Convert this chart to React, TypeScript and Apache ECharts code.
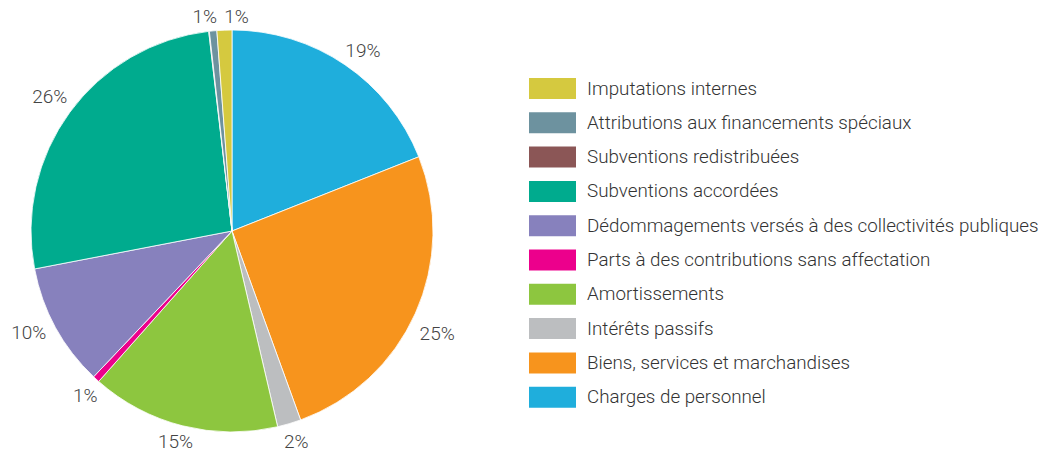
import React, { useEffect, useRef } from "react";
import * as echarts from "echarts";

const categories = [
  "Charges de personnel",
  "Biens, services et marchandises",
  "Intérêts passifs",
  "Amortissements",
  "Parts à des contributions sans affectation",
  "Dédommagements versés à des collectivités publiques",
  "Subventions accordées",
  "Subventions redistribuées",
  "Attributions aux financements spéciaux",
  "Imputations internes",
];

const values = [19.0, 25.5, 1.9, 15.2, 0.55, 9.9, 26.2, 0.05, 0.6, 1.2];

const colors = [
  "#1FAEDC",
  "#F7941D",
  "#BCBEC0",
  "#8DC63F",
  "#EC008C",
  "#8781BD",
  "#00AB8E",
  "#8B5656",
  "#6D929F",
  "#D5C93F",
];

const hiddenLabels = ["Subventions redistribuées"];
const labelOffsets: Record<string, number[]> = {
  "Charges de personnel": [4, 6],
  "Biens, services et marchandises": [-1, 10],
  "Intérêts passifs": [0, -6],
  Amortissements: [-1, -9],
  "Parts à des contributions sans affectation": [6, -2],
  "Dédommagements versés à des collectivités publiques": [-5, -7],
  "Subventions accordées": [0, -1],
  "Attributions aux financements spéciaux": [-6, 10],
  "Imputations internes": [13, 11],
};

const FONT = "Roboto";

export default function App() {
  const ref = useRef<HTMLDivElement>(null);
  useEffect(() => {
    if (!ref.current) return;
    const chart = echarts.init(ref.current, null, { renderer: "svg" });
    const sum = values.reduce((a, b) => a + b, 0);
    const mainData = categories.map((name, i) => ({
      name,
      value: values[i],
      itemStyle: { color: colors[i] },
    }));
    const labelData = categories.map((name, i) => ({
      name,
      value: values[i],
      label: {
        show: hiddenLabels.indexOf(name) < 0,
        offset: labelOffsets[name] || [0, 0],
      },
    }));
    chart.setOption({
      animation: false,
      legend: {
        orient: "vertical",
        left: 527,
        top: 76,
        padding: 0,
        itemWidth: 49,
        itemHeight: 23,
        itemGap: 9.3,
        icon: "rect",
        data: categories.slice().reverse(),
        textStyle: {
          fontFamily: FONT,
          fontWeight: 300,
          fontSize: 18.8,
          lineHeight: 23,
          color: "#333",
          padding: [0, 0, 0, 5],
        },
        selectedMode: false,
      },
      series: [
        {
          type: "pie",
          center: [232, 231],
          radius: [0, 201],
          startAngle: 90,
          clockwise: true,
          data: mainData,
          label: { show: false },
          labelLine: { show: false },
          itemStyle: { borderColor: "#fff", borderWidth: 0.8 },
          emphasis: { disabled: true },
          silent: true,
        },
        {
          type: "pie",
          center: [232, 231],
          radius: [201, 245],
          startAngle: 90,
          clockwise: true,
          data: labelData,
          itemStyle: { color: "rgba(0,0,0,0)" },
          label: {
            show: true,
            position: "inside",
            formatter: (p: any) => Math.round((p.value / sum) * 100) + "%",
            fontFamily: FONT,
            fontWeight: 300,
            fontSize: 19,
            color: "#444",
          },
          labelLine: { show: false },
          emphasis: { disabled: true },
          silent: true,
        },
      ],
    });
    return () => chart.dispose();
  }, []);
  return (
    <div
      ref={ref}
      style={{ position: "absolute", left: 0, top: 0, width: 1043, height: 454 }}
    />
  );
}
